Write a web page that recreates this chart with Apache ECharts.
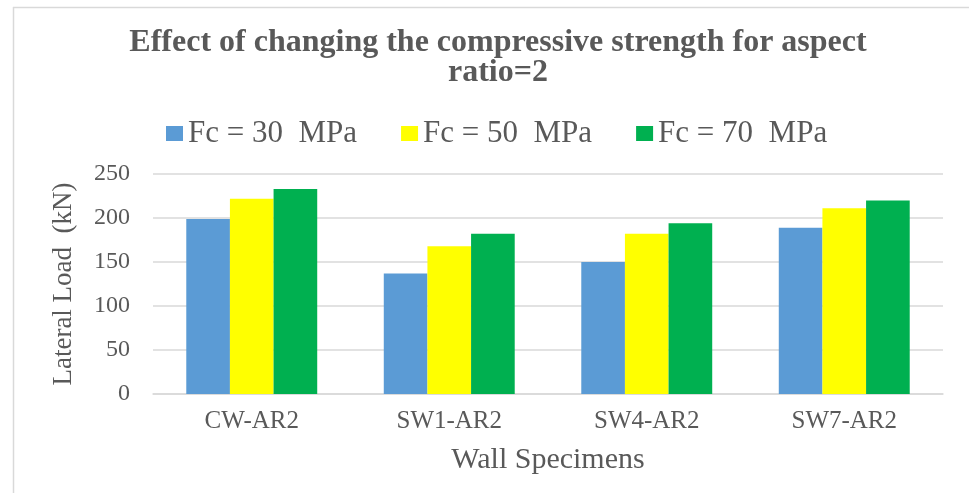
<!DOCTYPE html>
<html>
<head>
<meta charset="utf-8">
<script src="https://cdn.jsdelivr.net/npm/echarts@6/dist/echarts.min.js"></script>
<style>
  html, body { margin: 0; padding: 0; background: #ffffff; }
  #chart { width: 969px; height: 493px; }
</style>
</head>
<body>
<div id="chart"></div>
<script>
// Wall specimens on the category axis
const specimens = ['CW-AR2', 'SW1-AR2', 'SW4-AR2', 'SW7-AR2'];

// Lateral load (kN) for each concrete strength
const seriesNames = ['Fc = 30  MPa', 'Fc = 50  MPa', 'Fc = 70  MPa'];
const loadFc30 = [199, 137, 150, 189];
const loadFc50 = [222, 168, 182, 211];
const loadFc70 = [233, 182, 194, 220];

const yTicks = { min: 0, max: 250, interval: 50 };

const serif = 'Liberation Serif';
const textGray = '#595959';
const colors = ['#5B9BD5', '#FFFF00', '#00B050'];

const chart = echarts.init(document.getElementById('chart'), null, { renderer: 'canvas' });

const makeBar = (name, data, color) => ({
  name: name,
  type: 'bar',
  data: data,
  barGap: 0,
  barCategoryGap: '33.7%',
  itemStyle: { color: color },
  emphasis: { disabled: true }
});

chart.setOption({
  animation: false,
  backgroundColor: '#ffffff',
  color: colors,
  textStyle: { fontFamily: serif },
  title: {
    text: 'Effect of changing the compressive strength for aspect\nratio=2',
    left: 493,
    top: 23,
    textAlign: 'center',
    textStyle: {
      fontFamily: serif,
      fontWeight: 'bold',
      fontSize: 32,
      lineHeight: 30,
      color: textGray
    }
  },
  legend: {
    data: seriesNames,
    left: 161,
    top: 113,
    icon: 'rect',
    itemWidth: 17,
    itemHeight: 15,
    itemGap: 44,
    textStyle: {
      fontFamily: serif,
      fontSize: 31,
      color: textGray
    }
  },
  grid: {
    left: 153,
    right: 26,
    top: 174,
    bottom: 99,
    containLabel: false
  },
  xAxis: {
    type: 'category',
    data: specimens,
    name: 'Wall Specimens',
    nameLocation: 'middle',
    nameGap: 51,
    nameTextStyle: { fontFamily: serif, fontSize: 30, color: textGray },
    axisLine: { show: true, lineStyle: { color: '#D9D9D9', width: 1.5 } },
    axisTick: { show: false },
    axisLabel: { fontFamily: serif, fontSize: 25, color: textGray, margin: 15 }
  },
  yAxis: {
    type: 'value',
    min: yTicks.min,
    max: yTicks.max,
    interval: yTicks.interval,
    name: 'Lateral Load  (kN)',
    nameLocation: 'middle',
    nameRotate: 90,
    nameGap: 76,
    nameTextStyle: { fontFamily: serif, fontSize: 27, color: textGray },
    axisLine: { show: false },
    axisTick: { show: false },
    axisLabel: { fontFamily: serif, fontSize: 24, color: textGray, margin: 23 },
    splitLine: { lineStyle: { color: '#D9D9D9', width: 1.5 } }
  },
  graphic: [
    {
      type: 'line',
      shape: { x1: 13, y1: 7.5, x2: 969, y2: 7.5 },
      style: { stroke: '#D9D9D9', lineWidth: 1.5 },
      silent: true
    },
    {
      type: 'line',
      shape: { x1: 13.5, y1: 7, x2: 13.5, y2: 493 },
      style: { stroke: '#D9D9D9', lineWidth: 1.5 },
      silent: true
    }
  ],
  series: [
    makeBar(seriesNames[0], loadFc30, colors[0]),
    makeBar(seriesNames[1], loadFc50, colors[1]),
    makeBar(seriesNames[2], loadFc70, colors[2])
  ]
});
</script>
</body>
</html>
